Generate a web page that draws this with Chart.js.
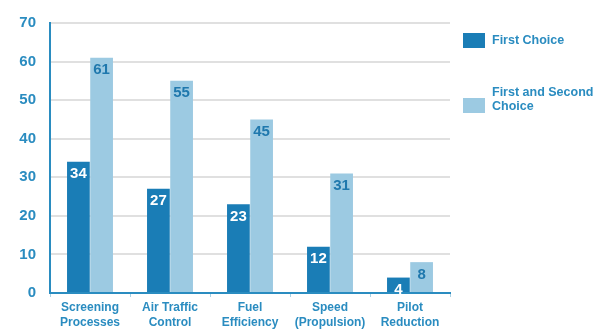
<!DOCTYPE html>
<html>
<head>
<meta charset="utf-8">
<script src="https://cdn.jsdelivr.net/npm/chart.js@4"></script>
<style>
  html, body { margin: 0; padding: 0; background: #fff; }
  #wrap { position: relative; width: 597px; height: 331px; }
  .legend { position: absolute; font: bold 12.5px "Liberation Sans", Arial, sans-serif; color: #2a8cc0; }
  .legend .box { position: absolute; left: 0; top: 0; width: 22px; height: 15px; }
  .legend span { position: absolute; left: 29px; top: 0; line-height: 14px; white-space: nowrap; }
</style>
</head>
<body>
<div id="wrap">
  <canvas id="chart" width="597" height="331"></canvas>
  <div class="legend" style="left:463px;top:33px;">
    <div class="box" style="background:#1a7db6;"></div><span style="top:0px;">First Choice</span>
  </div>
  <div class="legend" style="left:463px;top:98px;">
    <div class="box" style="background:#9ccae2;"></div><span style="top:-13px;">First and Second<br>Choice</span>
  </div>
</div>
<script>
/* ── data ── */
const categories   = [['Screening','Processes'], ['Air Traffic','Control'], ['Fuel','Efficiency'], ['Speed','(Propulsion)'], ['Pilot','Reduction']];
const firstChoice  = [34, 27, 23, 12, 4];
const firstSecond  = [61, 55, 45, 31, 8];
const yTicks       = [0, 10, 20, 30, 40, 50, 60, 70];

const DARK  = '#1a7db6';
const LIGHT = '#9ccae2';
const TEXT  = '#2a8cc0';
const FONT  = '"Liberation Sans", Arial, sans-serif';

/* value labels inside the top of each bar */
const valueLabels = {
  id: 'valueLabels',
  afterDatasetsDraw(chart) {
    const ctx = chart.ctx;
    ctx.save();
    ctx.font = 'bold 15px ' + FONT;
    ctx.textAlign = 'center';
    ctx.textBaseline = 'top';
    chart.data.datasets.forEach((ds, di) => {
      chart.getDatasetMeta(di).data.forEach((bar, i) => {
        ctx.fillStyle = di === 0 ? '#ffffff' : '#1f78ad';
        ctx.fillText(ds.data[i], bar.x, bar.y + 5);
      });
    });
    ctx.restore();
  }
};

new Chart(document.getElementById('chart'), {
  type: 'bar',
  data: {
    labels: categories,
    datasets: [
      { label: 'First Choice', data: firstChoice, backgroundColor: DARK,
        categoryPercentage: 0.58, barPercentage: 0.98 },
      { label: 'First and Second Choice', data: firstSecond, backgroundColor: LIGHT,
        categoryPercentage: 0.58, barPercentage: 0.98 }
    ]
  },
  options: {
    responsive: false,
    animation: false,
    layout: { padding: { left: 0, right: 147, top: 13, bottom: 0 } },
    plugins: { legend: { display: false }, tooltip: { enabled: false } },
    scales: {
      x: {
        afterFit: axis => { axis.height = 38; },
        grid: { drawOnChartArea: false, drawTicks: true, tickLength: 4, color: '#a9d0e4' },
        border: { color: TEXT, width: 2 },
        ticks: { color: TEXT, font: { family: FONT, size: 12, weight: 'bold', lineHeight: 1.25 },
                 padding: 3, maxRotation: 0, autoSkip: false }
      },
      y: {
        min: 0, max: 70,
        afterFit: axis => { axis.width = 50; },
        afterBuildTicks: axis => { axis.ticks = yTicks.map(v => ({ value: v })); },
        grid: { color: '#e0e0e0', lineWidth: 2, drawTicks: false },
        border: { color: TEXT, width: 2 },
        ticks: { color: TEXT, font: { family: FONT, size: 15, weight: 'bold' }, padding: 14 }
      }
    }
  },
  plugins: [valueLabels]
});
</script>
</body>
</html>
